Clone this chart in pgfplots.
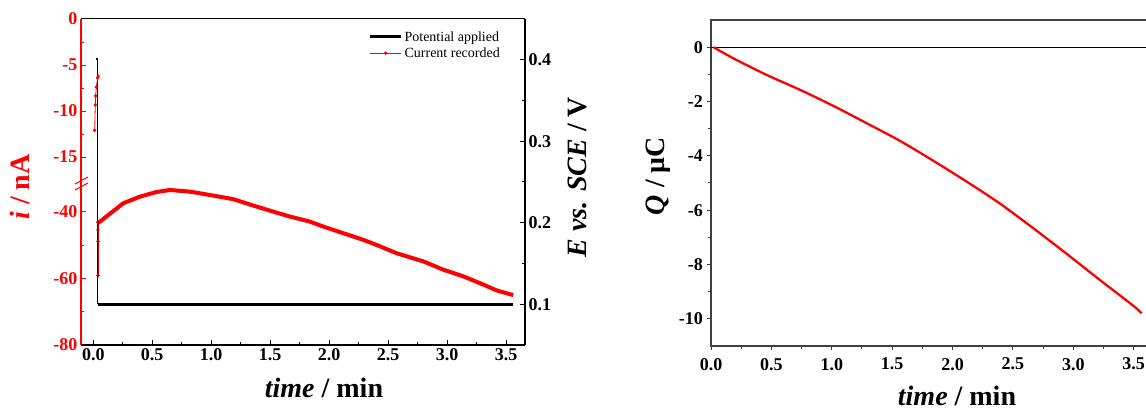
\documentclass[border=0pt]{standalone}
\usepackage{fontspec}
\setmainfont{Liberation Serif}
\usepackage{pgfplots}
\pgfplotsset{compat=1.18}

\newcommand{\tickfont}{\fontsize{18}{20}\selectfont\bfseries}
\newcommand{\labfont}{\fontsize{28}{30}\selectfont\bfseries}

\pgfplotsset{
  leftpanel/.style={
    scale only axis, width=444pt,
    xmin=-0.104, xmax=3.66,
    tick align=inside, major tick length=5pt, minor tick length=3pt,
    /pgf/number format/assume math mode=true,
    tick label style={font=\tickfont},
    every outer x axis line/.append style={-},
    every outer y axis line/.append style={-},
  },
}

\begin{document}
\begin{tikzpicture}[x=1pt,y=1pt]
\path[use as bounding box] (0,0) rectangle (1146,412);
\clip (0,0) rectangle (1146,412);

% right-hand E axis, potential applied
\begin{axis}[leftpanel,
  at={(81pt,393pt)}, anchor=north west, height=326pt,
  ymin=0.05, ymax=0.45,
  axis x line=none, axis y line*=right,
  y axis line style={black, line width=1.2pt},
  ytick={0.1,0.2,0.3,0.4}, minor ytick={0.15,0.25,0.35},
  yticklabel style={/pgf/number format/fixed, /pgf/number format/precision=1},
  ytick style={black, line width=1pt},
  legend style={at={(0.955,0.975)}, anchor=north east, draw=none, fill=none,
    font=\fontsize{14}{16}\selectfont, row sep=1pt, cells={anchor=west}},
  legend image code/.code={\draw[mark repeat=2, mark phase=2, #1]
    plot coordinates {(0pt,0pt) (15.5pt,0pt) (31pt,0pt)};},
]
\addplot[black, line width=1.2pt, forget plot] coordinates {(0.02,0.401) (0.037,0.401) (0.037,0.1)};
\addplot[black, line width=3pt] coordinates {(0.037,0.1) (3.56,0.1)};
\addlegendentry{Potential applied}
\addlegendimage{red, line width=0.8pt, mark=*, mark size=1.3pt}
\addlegendentry{Current recorded}
\end{axis}

% upper part of the broken current axis
\begin{axis}[leftpanel,
  at={(81pt,393pt)}, anchor=north west, height=163pt,
  ymin=-17.7, ymax=0,
  axis x line*=top, axis y line*=left, xtick=\empty,
  x axis line style={black, line width=1pt},
  y axis line style={red, line width=1.2pt},
  ytick={0,-5,-10,-15}, minor ytick={-2.5,-7.5,-12.5},
  ytick style={red, line width=1pt},
  yticklabel style={red},
]
\addplot[red, line width=0.8pt, mark=*, mark size=1.3pt] coordinates {
  (0.012,-12.1) (0.017,-9.35) (0.020,-8.35) (0.026,-7.4) (0.037,-6.4) (0.042,-6.2)};
\end{axis}

% lower part of the broken current axis
\begin{axis}[leftpanel,
  at={(81pt,230pt)}, anchor=north west, height=163pt,
  ymin=-80, ymax=-31,
  axis x line*=bottom, axis y line*=left,
  x axis line style={black, line width=1.2pt},
  y axis line style={red, line width=1.2pt},
  xtick={0,0.5,1,1.5,2,2.5,3,3.5},
  minor xtick={0.25,0.75,1.25,1.75,2.25,2.75,3.25},
  xticklabel style={/pgf/number format/fixed, /pgf/number format/fixed zerofill, /pgf/number format/precision=1},
  xtick style={black, line width=1pt},
  ytick={-40,-60,-80}, minor ytick={-50,-70},
  ytick style={red, line width=1pt},
  yticklabel style={red},
]
\addplot[red!80!black, line width=0.8pt, mark=*, mark size=1.3pt] coordinates {
  (0.040,-59.1) (0.040,-48.9) (0.040,-45.4) (0.040,-43.1)};
\addplot[red, line width=4pt, line join=round] coordinates {
  (0.037,-43.4) (0.057,-42.9) (0.254,-37.4) (0.396,-35.4) (0.537,-34.0)
  (0.65,-33.4) (0.82,-33.9) (0.905,-34.4) (1.10,-35.6) (1.19,-36.2)
  (1.385,-38.4) (1.525,-39.9) (1.667,-41.4) (1.836,-42.9) (1.95,-44.4)
  (2.12,-46.4) (2.29,-48.4) (2.40,-49.9) (2.57,-52.4) (2.80,-54.9)
  (2.97,-57.4) (3.14,-59.4) (3.31,-61.9) (3.42,-63.6) (3.56,-65.0)};
\end{axis}

% axis break marks
\draw[red, line width=1pt] (75,228) -- (88,235);
\draw[red, line width=1pt] (75,222) -- (88,229);

% right panel: charge
\begin{axis}[
  at={(711pt,392pt)}, anchor=north west, scale only axis,
  width=442pt, height=326pt,
  xmin=0, xmax=3.66, ymin=-11, ymax=1,
  axis line style={black!75, line width=1.3pt},
  tick align=outside, xtick pos=bottom, ytick pos=left,
  major tick length=4.5pt, minor tick length=3pt,
  tick style={black!75, line width=1pt},
  /pgf/number format/assume math mode=true,
  tick label style={font=\tickfont},
  xtick={0,0.5,1,1.5,2,2.5,3,3.5},
  minor xtick={0.25,0.75,1.25,1.75,2.25,2.75,3.25},
  xticklabel style={yshift=-4pt, /pgf/number format/fixed, /pgf/number format/fixed zerofill, /pgf/number format/precision=1},
  ytick={-10,-8,-6,-4,-2,0}, minor ytick={-9,-7,-5,-3,-1},
]
\addplot[black, line width=1pt] coordinates {(0,0) (3.66,0)};
\addplot[red, line width=2.3pt, smooth] coordinates {
  (0.02,0) (0.185,-0.41) (0.46,-1.02) (0.737,-1.57) (1.012,-2.16)
  (1.289,-2.80) (1.565,-3.45) (1.84,-4.18) (2.117,-4.95) (2.39,-5.75)
  (2.67,-6.67) (2.94,-7.59) (3.22,-8.57) (3.50,-9.53) (3.565,-9.80)};
\end{axis}

% axis titles
\node[rotate=90, red, font=\labfont] at (20,225) {\textit{i} / nA};
\node[rotate=90, font=\labfont] at (577,235) {\textit{E vs. SCE} / V};
\node[anchor=base, font=\labfont] at (324,14) {\textit{time} / min};
\node[rotate=90, font=\labfont] at (658,236) {\textit{Q} / μC};
\node[anchor=base, font=\labfont] at (957,6) {\textit{time} / min};
\end{tikzpicture}
\end{document}
